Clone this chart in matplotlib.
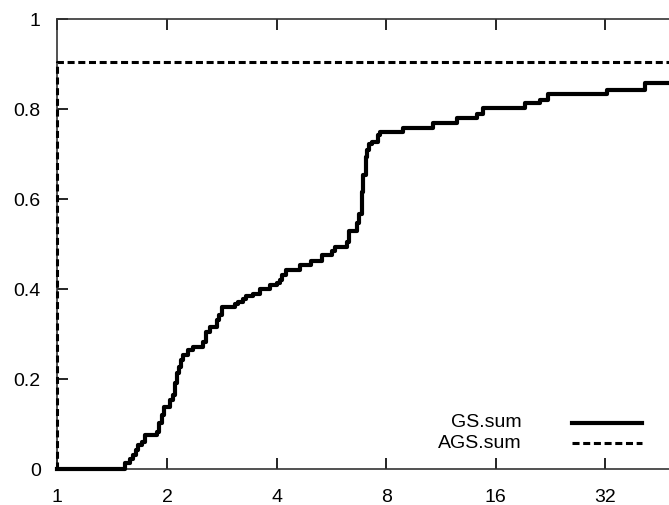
import matplotlib
matplotlib.use("Agg")
import matplotlib.pyplot as plt

# step points of GS.sum (x where the step happens, value after the step)
gs_x = [1.0, 1.535, 1.584, 1.617, 1.645, 1.669, 1.705, 1.741, 1.875, 1.906,
        1.935, 1.964, 2.04, 2.075, 2.105, 2.136, 2.163, 2.182, 2.21, 2.29,
        2.354, 2.518, 2.561, 2.627, 2.74, 2.786, 2.828, 3.076, 3.14, 3.24,
        3.30, 3.45, 3.6, 3.85, 4.0, 4.09, 4.13, 4.25, 4.64, 4.96, 5.32,
        5.67, 5.79, 6.24, 6.34, 6.67, 6.75, 6.86, 6.93, 7.05, 7.11, 7.2,
        7.30, 7.62, 7.70, 8.88, 10.74, 12.5, 14.19, 14.8, 19.26, 21.17,
        22.3, 32.3, 41.1, 64.0]
gs_y = [0.0, 0.013, 0.022, 0.032, 0.043, 0.054, 0.061, 0.076, 0.084, 0.102,
        0.121, 0.139, 0.154, 0.165, 0.191, 0.213, 0.228, 0.244, 0.254, 0.265,
        0.272, 0.284, 0.306, 0.316, 0.332, 0.343, 0.36, 0.367, 0.372, 0.378,
        0.385, 0.39, 0.40, 0.41, 0.415, 0.421, 0.432, 0.444, 0.454, 0.464, 0.476,
        0.486, 0.495, 0.506, 0.530, 0.547, 0.567, 0.617, 0.654, 0.695, 0.71, 0.724,
        0.728, 0.743, 0.750, 0.758, 0.770, 0.780, 0.79, 0.802, 0.813, 0.821,
        0.834, 0.844, 0.858, 0.858]

ags_x = [1.0, 1.0, 64.0]
ags_y = [0.0, 0.905, 0.905]

x_ticks = [1, 2, 4, 8, 16, 32]
y_ticks = [0, 0.2, 0.4, 0.6, 0.8, 1]
y_labels = ['0', '0.2', '0.4', '0.6', '0.8', '1']

plt.rcParams['font.family'] = ['Liberation Sans', 'DejaVu Sans']

fig = plt.figure(figsize=(6.69, 5.05), dpi=100)
ax = fig.add_axes([0.0857, 0.0707, 0.983, 0.891])

ax.plot(gs_x, gs_y, color='black', lw=3.0, drawstyle='steps-post',
        clip_on=False, zorder=3)
ags_line, = ax.plot(ags_x, ags_y, color='black', lw=2.2, clip_on=False,
                    zorder=3)
ags_line.set_dashes((2.3, 1.2))

ax.set_xscale('log', base=2)
ax.set_xlim(1, 64)
ax.set_ylim(0, 1)
ax.set_xticks(x_ticks)
ax.set_xticklabels([str(t) for t in x_ticks])
ax.minorticks_off()
ax.set_yticks(y_ticks)
ax.set_yticklabels(y_labels)
ax.tick_params(direction='in', length=8, width=1.2, labelsize=14,
               top=True, right=True)
ax.tick_params(axis='x', pad=14)
ax.tick_params(axis='y', pad=12)
for s in ax.spines.values():
    s.set_linewidth(1.2)
    s.set_color('#333333')

# gnuplot-style key: text on the left, sample on the right
ax.text(0.706, 0.103, 'GS.sum', transform=ax.transAxes, ha='right',
        va='center', fontsize=14)
ax.text(0.706, 0.058, 'AGS.sum', transform=ax.transAxes, ha='right',
        va='center', fontsize=14)
ax.plot([0.782, 0.889], [0.103, 0.103], transform=ax.transAxes,
        color='black', lw=3.0)
key_dash, = ax.plot([0.782, 0.889], [0.058, 0.058], transform=ax.transAxes,
                    color='black', lw=2.2)
key_dash.set_dashes((2.3, 1.2))

fig.savefig('out.png', dpi=100)
